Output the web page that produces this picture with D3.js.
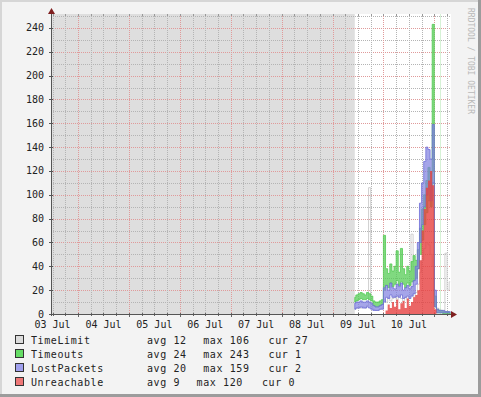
<!DOCTYPE html>
<html lang="en">
<head>
<meta charset="UTF-8">
<title>RRD graph</title>
<script src="https://d3js.org/d3.v7.min.js"></script>
<style>
  body { margin: 0; background: #fff; }
  text { font-family: "DejaVu Sans Mono", monospace; }
</style>
</head>
<body>
<div id="chart"></div>
<script>
// time window of the graph and start of the recorded data (hourly samples)
var start = new Date(2010, 6, 3, 11, 15);
var end = new Date(2010, 6, 11, 7, 52);
var dataStart = new Date(2010, 6, 9, 10, 30);
var lastUpdate = new Date(2010, 6, 11, 2, 40);

var timeLimit = [4, 5, 6, 5, 6, 5, 7, 106, 6, 4, 3, 3, 4, 5,
  12, 10, 14, 11, 13, 15, 12, 16, 13, 11, 14, 12, 15, 67, 14,
  18, 25, 35, 45, 55, 60, 58, 50, 40, 8,
  5, 4, 3, 3, 51, 20, 27];

var timeoutsHi = [14, 16, 17, 18, 17, 16, 18, 17, 15, 11, 10, 10, 11, 12,
  66, 38, 34, 42, 36, 40, 53, 35, 55, 38, 33, 40, 36, 44, 49,
  45, 54, 72, 88, 100, 112, 123, 118, 243, 15,
  4, 3, 3, 2, 2, 2, 1];
var timeoutsLo = [10, 11, 12, 13, 12, 12, 13, 12, 11, 7, 6, 6, 7, 8,
  20, 24, 22, 26, 23, 25, 28, 24, 27, 25, 22, 26, 24, 27, 28,
  30, 38, 50, 62, 75, 85, 95, 90, 120, 6,
  1, 1, 1, 0, 0, 0, 0];

var lostHi = [9, 10, 10, 11, 10, 10, 11, 10, 9, 7, 6, 6, 7, 8,
  22, 24, 20, 26, 22, 21, 25, 23, 26, 20, 22, 24, 21, 23, 28,
  40, 60, 93, 110, 128, 140, 138, 130, 159, 20,
  4, 3, 3, 3, 2, 2, 2];
var lostLo = [4, 5, 5, 6, 5, 5, 6, 5, 4, 3, 3, 3, 4, 4,
  10, 14, 13, 16, 14, 14, 15, 14, 16, 13, 14, 15, 13, 15, 17,
  25, 38, 60, 75, 90, 100, 105, 95, 110, 6,
  1, 1, 1, 1, 1, 1, 1];

var unreachable = [0, 0, 0, 0, 0, 0, 0, 0, 0, 0, 0, 0, 0, 0,
  0, 3, 8, 5, 10, 6, 12, 4, 9, 11, 5, 13, 7, 10, 14,
  16, 20, 45, 70, 88, 106, 112, 120, 108, 4,
  0, 0, 0, 0, 0, 0, 0];

var legendNames = ["TimeLimit", "Timeouts", "LostPackets", "Unreachable"];
var legendColors = ["#dcdcdc", "#66dd66", "#a0a0ee", "#ee7777"];
var legendAvg = [12, 24, 20, 9];
var legendMax = [106, 243, 159, 120];
var legendCur = [27, 1, 2, 0];

var yTicks = [0, 20, 40, 60, 80, 100, 120, 140, 160, 180, 200, 220, 240];

var W = 481, H = 397;
var svg = d3.select("#chart").append("svg")
    .attr("width", W)
    .attr("height", H);

// background + 3d frame
svg.append("rect").attr("width", W).attr("height", H).attr("fill", "#f3f3f3");
svg.append("rect").attr("width", W).attr("height", 2).attr("fill", "#d6d6d6");
svg.append("rect").attr("width", 2).attr("height", H).attr("fill", "#d6d6d6");
svg.append("rect").attr("x", W - 3).attr("width", 3).attr("height", H).attr("fill", "#9c9c9c");
svg.append("rect").attr("y", H - 3).attr("width", W).attr("height", 3).attr("fill", "#9c9c9c");

var x = d3.scaleTime().domain([start, end]).range([51, 451]);
var y = d3.scaleLinear().domain([0, 251.7]).range([314, 14]);

var times = timeLimit.map(function(d, i) { return d3.timeHour.offset(dataStart, i); });

// canvas
svg.append("rect")
    .attr("x", x(start)).attr("y", y.range()[1])
    .attr("width", x(end) - x(start)).attr("height", y.range()[0] - y.range()[1])
    .attr("fill", "#ffffff");

// unknown data shading
svg.append("rect")
    .attr("x", x(start)).attr("y", y.range()[1])
    .attr("width", x(dataStart) - x(start)).attr("height", y.range()[0] - y.range()[1])
    .attr("fill", "#dedede");

var minorColor = "#b4b4b4";
var majorColor = "#e09a9a";

// horizontal grid
var grid = svg.append("g").attr("shape-rendering", "crispEdges");
d3.range(10, 251, 10).forEach(function(v) {
    var major = v % 20 === 0;
    grid.append("line")
        .attr("x1", x(start)).attr("x2", x(end))
        .attr("y1", Math.round(y(v)) + 0.5).attr("y2", Math.round(y(v)) + 0.5)
        .attr("stroke", major ? majorColor : minorColor)
        .attr("stroke-dasharray", "1,1");
});

// vertical grid, every 6 hours, midnight is major
var gridTimes = [];
d3.timeDay.range(d3.timeDay.floor(start), end).forEach(function(d) {
    [0, 6, 12, 18].forEach(function(h) {
        var t = d3.timeHour.offset(d, h);
        if (t > start && t < end) gridTimes.push({ t: t, major: h === 0 });
    });
});
gridTimes.forEach(function(g) {
    var gx = Math.round(x(g.t)) + 0.5;
    grid.append("line")
        .attr("x1", gx).attr("x2", gx)
        .attr("y1", y.range()[1]).attr("y2", y.range()[0])
        .attr("stroke", g.major ? majorColor : minorColor)
        .attr("stroke-dasharray", "1,1");
    grid.append("line")
        .attr("x1", gx).attr("x2", gx)
        .attr("y1", y.range()[1]).attr("y2", y.range()[1] + 2)
        .attr("stroke", "#999");
    grid.append("line")
        .attr("x1", gx).attr("x2", gx)
        .attr("y1", y(0) - 1).attr("y2", y(0) + (g.major ? 3 : 2))
        .attr("stroke", "#666");
});

// vrule at last update
svg.append("line")
    .attr("x1", Math.round(x(lastUpdate)) + 0.5).attr("x2", Math.round(x(lastUpdate)) + 0.5)
    .attr("y1", y.range()[1]).attr("y2", y.range()[0])
    .attr("stroke", "#d6f2d6");

// series
var line = d3.line()
    .x(function(d, i) { return x(times[i]); })
    .y(function(d) { return y(d); })
    .curve(d3.curveStep);

function band(hi, lo) {
    return d3.area()
        .x(function(d, i) { return x(times[i]); })
        .y0(function(d, i) { return y(lo[i]); })
        .y1(function(d, i) { return y(hi[i]); })
        .curve(d3.curveStep)(hi);
}

svg.append("path")
    .attr("d", line(timeLimit))
    .attr("fill", "none")
    .attr("stroke", "#cfcfcf")
    .attr("stroke-width", 1);

svg.append("path")
    .attr("d", band(timeoutsHi, timeoutsLo))
    .attr("fill", "#55cc55")
    .attr("fill-opacity", 0.75)
    .attr("stroke", "#55cc55")
    .attr("stroke-opacity", 0.8)
    .attr("stroke-width", 1);

svg.append("path")
    .attr("d", band(lostHi, lostLo))
    .attr("fill", "#7f7fe0")
    .attr("fill-opacity", 0.7)
    .attr("stroke", "#6f6fd8")
    .attr("stroke-opacity", 0.8)
    .attr("stroke-width", 1);

var redArea = d3.area()
    .x(function(d, i) { return x(times[i]); })
    .y0(y(0))
    .y1(function(d) { return y(d); })
    .curve(d3.curveStep);

svg.append("path")
    .attr("d", redArea(unreachable))
    .attr("fill", "#e64040")
    .attr("fill-opacity", 0.8);

// axes
var axisColor = "#555";
svg.append("line")
    .attr("x1", x(start) + 0.5).attr("x2", x(start) + 0.5)
    .attr("y1", y(0) + 2).attr("y2", 11)
    .attr("stroke", axisColor);
svg.append("line")
    .attr("x1", x(start) - 2).attr("x2", 453)
    .attr("y1", y(0) + 0.5).attr("y2", y(0) + 0.5)
    .attr("stroke", axisColor);
svg.append("path")
    .attr("d", "M" + (x(start) + 0.5) + ",8 L" + (x(start) - 3) + ",14 L" + (x(start) + 4) + ",14 Z")
    .attr("fill", "#7f1f1f");
svg.append("path")
    .attr("d", "M457," + (y(0) + 0.5) + " L451," + (y(0) - 3) + " L451," + (y(0) + 4) + " Z")
    .attr("fill", "#7f1f1f");

// y tick marks and labels
yTicks.forEach(function(v) {
    svg.append("line")
        .attr("x1", x(start) - 2).attr("x2", x(start) + 2)
        .attr("y1", Math.round(y(v)) + 0.5).attr("y2", Math.round(y(v)) + 0.5)
        .attr("stroke", axisColor);
    svg.append("text")
        .attr("x", 44).attr("y", y(v) + 3.5)
        .attr("text-anchor", "end")
        .attr("font-size", 10)
        .attr("fill", "#222")
        .text(v);
});

// x labels centred at noon
var fmt = d3.timeFormat("%d %b");
d3.timeDay.range(d3.timeDay.floor(start), end).forEach(function(d) {
    var noon = d3.timeHour.offset(d, 12);
    if (noon > end) return;
    svg.append("text")
        .attr("x", x(noon)).attr("y", 327.5)
        .attr("text-anchor", "middle")
        .attr("font-size", 10)
        .attr("fill", "#222")
        .text(fmt(noon));
});

// watermark
svg.append("text")
    .attr("transform", "translate(468,8) rotate(90)")
    .attr("font-size", 8)
    .attr("fill", "#b8b8b8")
    .text("RRDTOOL / TOBI OETIKER");

// legend
var leg = svg.append("g");
legendNames.forEach(function(name, i) {
    var cy = 340 + i * 14;
    leg.append("rect")
        .attr("x", 15.5).attr("y", cy - 4.5)
        .attr("width", 8).attr("height", 8)
        .attr("fill", legendColors[i])
        .attr("stroke", "#333");
    leg.append("text")
        .attr("x", 31).attr("y", cy + 3.5)
        .attr("font-size", 10).attr("letter-spacing", 0.6)
        .attr("fill", "#222")
        .text(name);
    var parts = ["avg " + legendAvg[i], "max " + legendMax[i], "cur " + legendCur[i]];
    var gaps = [16.5, 19];
    var px = 147;
    parts.forEach(function(p, k) {
        var t = leg.append("text")
            .attr("x", px).attr("y", cy + 3.5)
            .attr("font-size", 10).attr("letter-spacing", 0.6)
            .attr("fill", "#222")
            .text(p);
        px += t.node().getComputedTextLength() + (gaps[k] || 0);
    });
});
</script>
</body>
</html>
